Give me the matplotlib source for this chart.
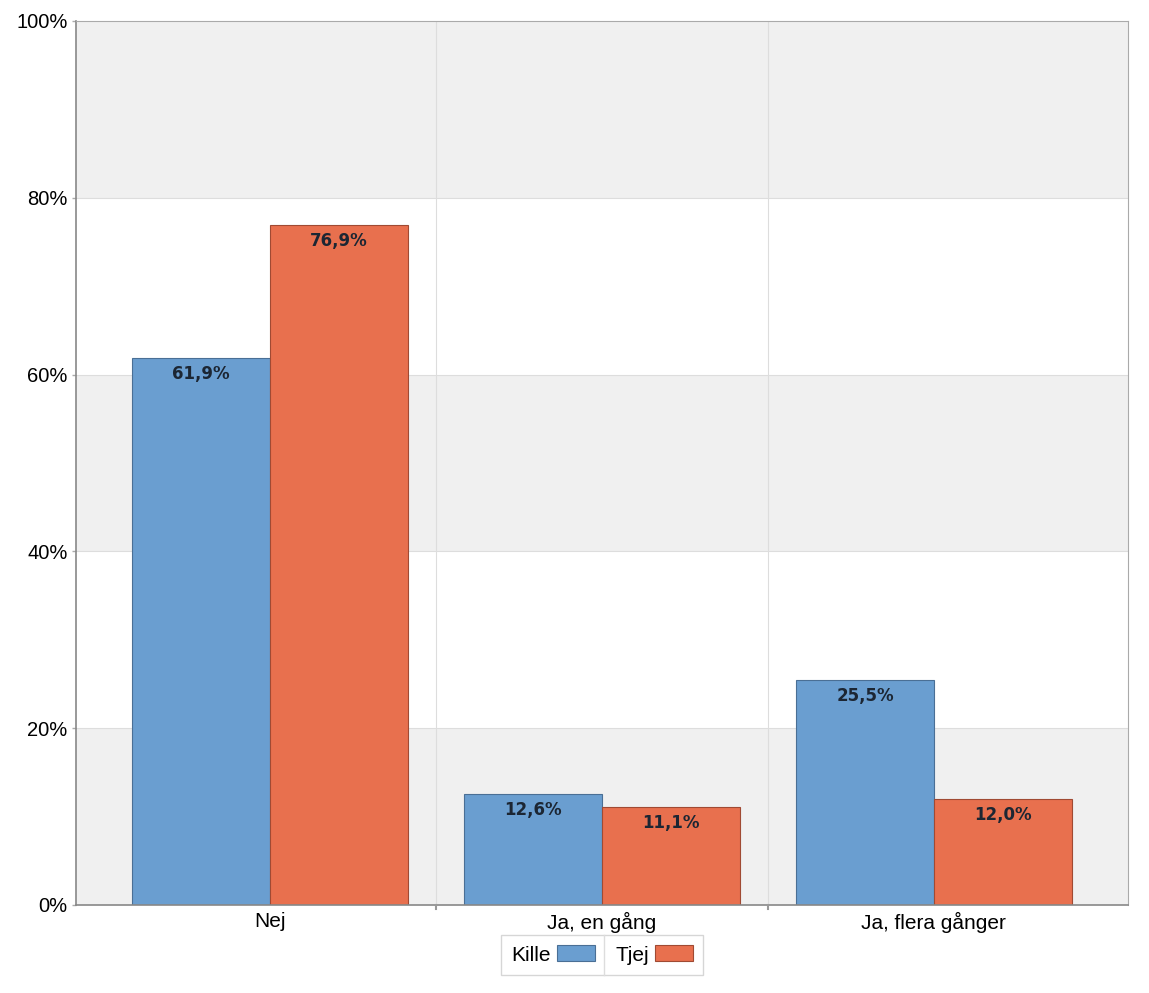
import matplotlib.pyplot as plt
import numpy as np
from matplotlib.lines import Line2D

categories = ['Nej', 'Ja, en gång', 'Ja, flera gånger']
kille = [61.9, 12.6, 25.5]
tjej = [76.9, 11.1, 12.0]
series_names = ['Kille', 'Tjej']
yticks = [0, 20, 40, 60, 80, 100]

blue = '#6a9ed0'
orange = '#e8704e'

fig = plt.figure(figsize=(11.49, 9.93), dpi=100)
ax = fig.add_axes([76 / 1149, 1 - 905 / 993, (1128 - 76) / 1149, (905 - 21) / 993])

x = np.arange(len(categories))
w = 0.415

# alternating background bands
for i, lo in enumerate(yticks[:-1]):
    if i % 2 == 0:
        ax.axhspan(lo, yticks[i + 1], color='#f0f0f0', zorder=0, lw=0)
for lo in yticks[1:-1]:
    ax.axhline(lo, color='#dddddd', lw=0.8, zorder=0.5)
for b in x[:-1] + 0.5:
    ax.axvline(b, color='#dddddd', lw=0.8, zorder=0.5)

b1 = ax.bar(x - w / 2, kille, w, color=blue, edgecolor='#4a6f95', lw=0.8, zorder=2, label=series_names[0])
b2 = ax.bar(x + w / 2, tjej, w, color=orange, edgecolor='#a04a33', lw=0.8, zorder=2, label=series_names[1])

for bars, vals in ((b1, kille), (b2, tjej)):
    for r, v in zip(bars, vals):
        ax.text(r.get_x() + r.get_width() / 2, v - 0.8, f'{v:.1f}%'.replace('.', ','),
                ha='center', va='top', fontsize=12, fontweight='bold', color='#1c2633',
                family='DejaVu Sans', zorder=3)

ax.set_xlim(-0.585, 2.585)
ax.set_ylim(0, 100)
ax.set_yticks(yticks)
ax.set_yticklabels([f'{t}%' for t in yticks], family='Liberation Sans', fontsize=14.5)
ax.set_xticks(x)
ax.set_xticklabels(categories, family='Liberation Sans', fontsize=15)
ax.tick_params(axis='y', length=3, width=1, color='#aaaaaa', pad=3)
ax.tick_params(axis='x', length=0, pad=5)
for b in x[:-1] + 0.5:
    ax.plot([b, b], [0, -0.4], color='#999999', lw=1.5, clip_on=False, zorder=4)

for s in ['top', 'right']:
    ax.spines[s].set_color('#aaaaaa')
for s in ['left', 'bottom']:
    ax.spines[s].set_color('#888888')
    ax.spines[s].set_linewidth(1.2)

leg = ax.legend(loc='upper center', bbox_to_anchor=(0.5, -0.034), ncol=2, markerfirst=False,
                prop={'family': 'Liberation Sans', 'size': 15}, fancybox=False,
                edgecolor='#cccccc', handlelength=1.8, handleheight=0.8, columnspacing=1.0,
                borderpad=0.5, handletextpad=0.3, borderaxespad=0)
leg.get_frame().set_linewidth(1.0)

# thin divider between the two legend entries
fig.canvas.draw()
bb = leg.get_window_extent().transformed(fig.transFigure.inverted())
fig.add_artist(Line2D([bb.x0 + bb.width * 0.51] * 2, [bb.y0, bb.y1], color='#dddddd', lw=1.0))

fig.savefig('out.png', dpi=100)
